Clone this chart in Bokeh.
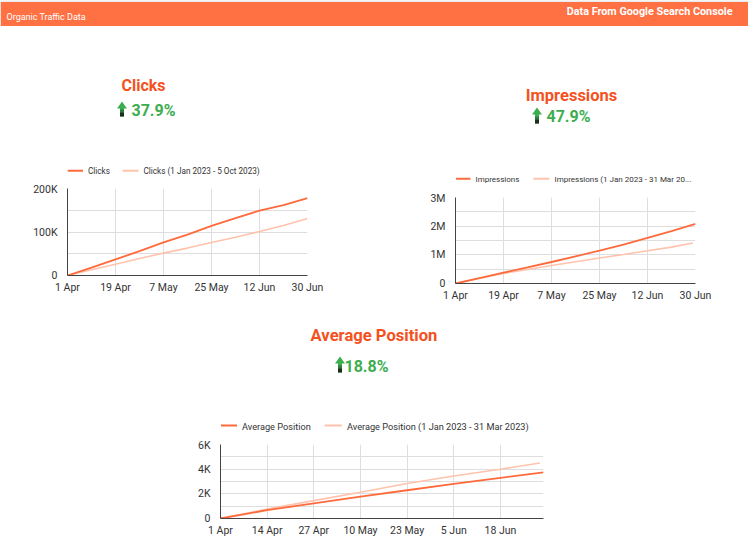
from bokeh.plotting import figure
from bokeh.layouts import column, row
from bokeh.models import Range1d, FixedTicker
from bokeh.core.properties import value
from bokeh.embed import file_html
from bokeh.resources import INLINE

# ---------------- data ----------------
x_days = [0, 9, 18, 27, 36, 45, 54, 63, 72, 81, 90]
x_days_prev = [0, 9, 18, 27, 36, 45, 54, 63, 72, 81, 89]
x_ticks = [0, 18, 36, 54, 72, 90]
x_tick_labels = ["1 Apr", "19 Apr", "7 May", "25 May", "12 Jun", "30 Jun"]

clicks = [0, 18000, 37000, 56000, 76000, 94000, 114000, 132000, 149000, 162000, 178000]
clicks_prev = [0, 13000, 26000, 39000, 51500, 63000, 76000, 88000, 101000, 115000, 131000]
clicks_yticks = [0, 100000, 200000]
clicks_yminor = [50000, 150000]
clicks_ylabels = ["0", "100K", "200K"]

impressions = [0, 190000, 380000, 560000, 750000, 950000, 1150000, 1360000, 1590000, 1830000, 2080000]
impressions_prev = [0, 180000, 350000, 490000, 630000, 760000, 890000, 1010000, 1140000, 1270000, 1410000]
impr_yticks = [0, 1000000, 2000000, 3000000]
impr_yminor = [500000, 1500000, 2500000]
impr_ylabels = ["0", "1M", "2M", "3M"]

avg_days = [0, 13, 26, 39, 52, 65, 78, 90]
avg_days_prev = [0, 13, 26, 39, 52, 65, 78, 89]
avg_pos = [0, 680, 1230, 1770, 2290, 2810, 3300, 3740]
avg_pos_prev = [0, 760, 1450, 2130, 2840, 3440, 4000, 4500]
avg_xticks = [0, 13, 26, 39, 52, 65, 78]
avg_xlabels = ["1 Apr", "14 Apr", "27 Apr", "10 May", "23 May", "5 Jun", "18 Jun"]
avg_yticks = [0, 2000, 4000, 6000]
avg_yminor = [1000, 3000, 5000]
avg_ylabels = ["0", "2K", "4K", "6K"]

kpi_titles = ["Clicks", "Impressions", "Average Position"]
kpi_changes = ["37.9%", "47.9%", "18.8%"]
legend_labels = [
    ("Clicks", "Clicks (1 Jan 2023 - 5 Oct 2023)"),
    ("Impressions", "Impressions (1 Jan 2023 - 31 Mar 20..."),
    ("Average Position", "Average Position (1 Jan 2023 - 31 Mar 2023)"),
]

ORANGE = "#FF7043"
DARK = "#FF6A3D"
LIGHT = "#FFC3AD"
TITLE_C = "#F4511E"
GREEN = "#3DAE4F"
FONT = value("Roboto")


def blank(w, h):
    p = figure(width=w, height=h, output_backend="svg", toolbar_location=None,
               x_range=Range1d(0, w), y_range=Range1d(h, 0),
               x_axis_type=None, y_axis_type=None, min_border=0)
    p.outline_line_color = None
    return p


def arrow(p, cx, top, bot):
    p.patch([cx, cx + 5, cx + 2, cx + 2, cx - 2, cx - 2, cx - 5],
            [top, top + 7, top + 7, bot, bot, top + 7, top + 7],
            color=GREEN, line_width=0)
    p.quad(left=[cx - 2], right=[cx + 2], top=[bot - 7], bottom=[bot - 4], color="#2E7D3A", line_width=0)
    p.quad(left=[cx - 2], right=[cx + 2], top=[bot - 4], bottom=[bot], color="#1C2F1F", line_width=0)


def title_fig(w, h, bx, y0, fl, fr, title, tx, ty, tsize, pct, ax, atop, abot, px, py,
              labels, leg_y, leg_x, leg_fs):
    """Block heading: KPI title, change arrow + %, and the chart legend.
    Its frame spans the same page columns as the chart below it (fl..fr)."""
    p = figure(width=w, height=h, output_backend="svg", toolbar_location=None,
               x_range=Range1d(fl, fr), y_range=Range1d(h, 0),
               x_axis_type=None, y_axis_type=None,
               min_border_left=fl - bx, min_border_right=bx + w - fr,
               min_border_top=0, min_border_bottom=0)
    p.outline_line_color = None
    p.text(x=[tx], y=[ty - y0], text=[title], text_font=FONT, text_font_style="bold",
           text_font_size=tsize, text_color=TITLE_C, text_align="center", text_baseline="middle")
    arrow(p, ax, atop - y0, abot - y0)
    p.text(x=[px], y=[py - y0], text=[pct], text_font=FONT, text_font_style="bold",
           text_font_size="16px", text_color=GREEN, text_align="left", text_baseline="middle")
    for (ls, ts), lab, col in zip(leg_x, labels, (DARK, LIGHT)):
        p.segment(x0=[ls], x1=[ts - 5], y0=[leg_y - y0], y1=[leg_y - y0],
                  line_color=col, line_width=2)
        p.text(x=[ts], y=[leg_y - y0 + 0.5], text=[lab], text_font=FONT,
               text_font_size=leg_fs, text_color="#333333", text_baseline="middle")
    return p


def chart(w, h, borders, xd, y1, xd2, y2, ymax, yt, ym, yl, xt, xl):
    l, r, t, b = borders
    p = figure(width=w, height=h, output_backend="svg", toolbar_location=None,
               x_range=Range1d(0, 90), y_range=Range1d(0, ymax),
               min_border_left=l, min_border_right=r, min_border_top=t, min_border_bottom=b)
    p.outline_line_color = None
    p.line(xd2, y2, line_color=LIGHT, line_width=1.6)
    p.line(xd, y1, line_color=DARK, line_width=1.8)
    p.xaxis.ticker = FixedTicker(ticks=xt)
    p.xaxis.major_label_overrides = {k: v for k, v in zip(xt, xl)}
    p.yaxis.ticker = FixedTicker(ticks=yt, minor_ticks=ym)
    p.yaxis.major_label_overrides = {k: v for k, v in zip(yt, yl)}
    for ax in (p.xaxis[0], p.yaxis[0]):
        ax.axis_line_color = "#444444"
        ax.major_tick_line_color = None
        ax.minor_tick_line_color = None
        ax.major_tick_out = 0
        ax.major_tick_in = 0
        ax.minor_tick_out = 0
        ax.minor_tick_in = 0
        ax.major_label_text_font = "Roboto"
        ax.major_label_text_font_size = "10.5px"
        ax.major_label_text_color = "#333333"
    p.xaxis.major_label_standoff = 5
    p.yaxis.major_label_standoff = 10
    p.xgrid.grid_line_color = "#DEDEDE"
    p.ygrid.grid_line_color = "#DEDEDE"
    p.ygrid.minor_grid_line_color = "#DEDEDE"
    return p


# ---------------- header ----------------
hdr = blank(748, 26)
hdr.quad(left=[0], right=[748], top=[0], bottom=[1], color="#D6D6D6", line_width=0)
hdr.quad(left=[0], right=[748], top=[1.5], bottom=[26], color=ORANGE, line_width=0)
hdr.text(x=[6], y=[16], text=["Organic Traffic Data"], text_font=FONT,
         text_font_size="9px", text_color="white", text_baseline="middle")
hdr.text(x=[732], y=[10.5], text=["Data From Google Search Console"], text_font=FONT,
         text_font_size="10.8px", text_font_style="bold", text_color="white", text_align="right",
         text_baseline="middle")

# ---------------- left block (Clicks) ----------------
tL = title_fig(374, 156, 0, 26, 67, 307, kpi_titles[0], 143, 84.5, "16px", kpi_changes[0],
               121.5, 101, 116, 131, 110,
               legend_labels[0], 170.3, ((67, 87.5), (122, 143)), "8.2px")
cL = chart(374, 122, (67, 67, 6, 29), x_days, clicks, x_days, clicks_prev, 200000,
           clicks_yticks, clicks_yminor, clicks_ylabels, x_ticks, x_tick_labels)

# ---------------- right block (Impressions) ----------------
tR = title_fig(374, 165, 374, 26, 455, 695, kpi_titles[1], 571, 94.5, "16.5px", kpi_changes[1],
               536.5, 107, 123, 546, 116,
               legend_labels[1], 178.3, ((455.5, 475), (533, 554)), "8px")
cR = chart(374, 113, (81, 53, 6, 21), x_days, impressions, x_days_prev, impressions_prev, 3000000,
           impr_yticks, impr_yminor, impr_ylabels, x_ticks, x_tick_labels)

# ---------------- bottom block (Average Position) ----------------
tB = title_fig(748, 134, 0, 304, 220, 543, kpi_titles[2], 373.5, 334.5, "16.6px", kpi_changes[2],
               339.5, 356, 372, 344, 366,
               legend_labels[2], 425, ((220.5, 241.5), (324, 346.5)), "9.2px")
cB = chart(748, 110, (220, 205, 6, 30), avg_days, avg_pos, avg_days_prev, avg_pos_prev, 6000,
           avg_yticks, avg_yminor, avg_ylabels, avg_xticks, avg_xlabels)

layout = column(hdr, row(column(tL, cL), column(tR, cR)), column(tB, cB))

open("out.html", "w").write(file_html(layout, INLINE))
